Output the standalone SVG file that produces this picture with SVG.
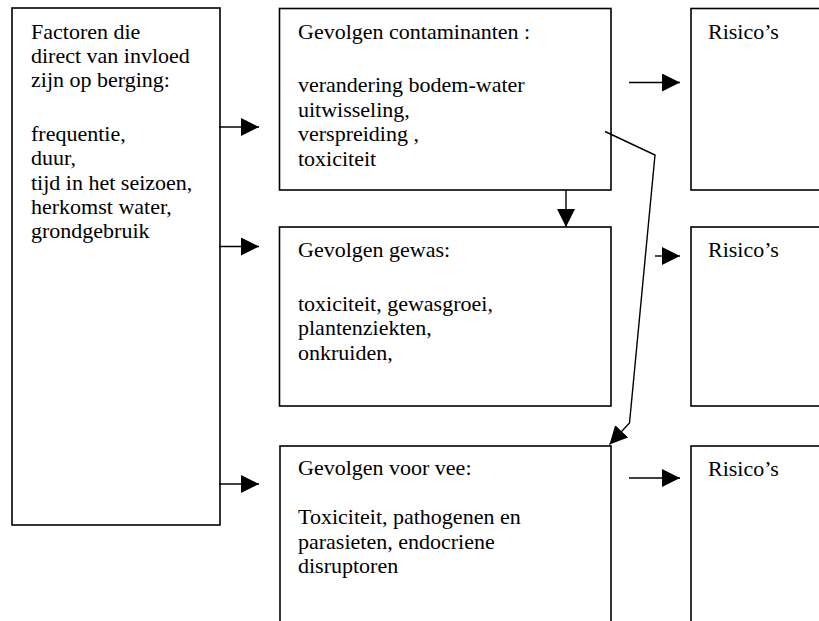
<svg xmlns="http://www.w3.org/2000/svg" width="819" height="621" viewBox="0 0 819 621">
<style>
.box{fill:#fff;stroke:#000;stroke-width:1.6}
.t{font-family:"Liberation Serif","Times New Roman",serif;font-size:22px;fill:#000}
.c{fill:none;stroke:#000;stroke-width:1.4}
</style>
<defs>
<marker id="ah" markerUnits="userSpaceOnUse" markerWidth="18" markerHeight="18" refX="17" refY="8.5" orient="auto" viewBox="0 0 17 17">
<path d="M0,0 L17,8.5 L0,17 z" fill="#000"/>
</marker>
</defs>
<rect width="819" height="621" fill="#fff"/>
<g id="factoren">
<rect class="box" x="12" y="8" width="208" height="517"/>
<text class="t" x="31"><tspan x="31" y="38.5">Factoren die</tspan><tspan x="31" y="62.8">direct van invloed</tspan><tspan x="31" y="87">zijn op berging:</tspan><tspan x="31" y="140.5">frequentie,</tspan><tspan x="31" y="165">duur,</tspan><tspan x="31" y="189.5">tijd in het seizoen,</tspan><tspan x="31" y="214">herkomst water,</tspan><tspan x="31" y="238.3">grondgebruik</tspan></text>
</g>
<g id="contaminanten">
<rect class="box" x="279.5" y="8.5" width="331.5" height="181.5"/>
<text class="t"><tspan x="298" y="39">Gevolgen contaminanten :</tspan><tspan x="298" y="92">verandering bodem-water</tspan><tspan x="298" y="116.5">uitwisseling,</tspan><tspan x="298" y="141">verspreiding ,</tspan><tspan x="298" y="165.5">toxiciteit</tspan></text>
</g>
<g id="gewas">
<rect class="box" x="279.5" y="227" width="331.5" height="179"/>
<text class="t"><tspan x="298" y="257">Gevolgen gewas:</tspan><tspan x="298" y="310.5">toxiciteit, gewasgroei,</tspan><tspan x="298" y="335">plantenziekten,</tspan><tspan x="298" y="359.5">onkruiden,</tspan></text>
</g>
<g id="vee">
<rect class="box" x="280" y="446" width="331" height="200"/>
<text class="t"><tspan x="298" y="475">Gevolgen voor vee:</tspan><tspan x="298" y="524">Toxiciteit, pathogenen en</tspan><tspan x="298" y="548.5">parasieten, endocriene</tspan><tspan x="298" y="573">disruptoren</tspan></text>
</g>
<g id="risico1">
<rect class="box" x="691" y="8.5" width="200" height="181.5"/>
<text class="t" x="708" y="39">Risico’s</text>
</g>
<g id="risico2">
<rect class="box" x="691" y="227" width="200" height="179"/>
<text class="t" x="708" y="257">Risico’s</text>
</g>
<g id="risico3">
<rect class="box" x="691" y="446" width="200" height="200"/>
<text class="t" x="708" y="476">Risico’s</text>
</g>
<g id="connectors">
<line class="c" x1="219" y1="127" x2="259" y2="127" marker-end="url(#ah)"/>
<line class="c" x1="219" y1="246.5" x2="259" y2="246.5" marker-end="url(#ah)"/>
<line class="c" x1="219" y1="484" x2="259" y2="484" marker-end="url(#ah)"/>
<line class="c" x1="629" y1="82.5" x2="680" y2="82.5" marker-end="url(#ah)"/>
<line class="c" x1="655" y1="256" x2="680" y2="256" marker-end="url(#ah)"/>
<line class="c" x1="629" y1="478" x2="680" y2="478" marker-end="url(#ah)"/>
<line class="c" x1="566" y1="190" x2="566" y2="227" marker-end="url(#ah)"/>
<polyline class="c" points="605,131.5 655,155 629.5,423 609.5,444.5" marker-end="url(#ah)"/>
</g>
</svg>
